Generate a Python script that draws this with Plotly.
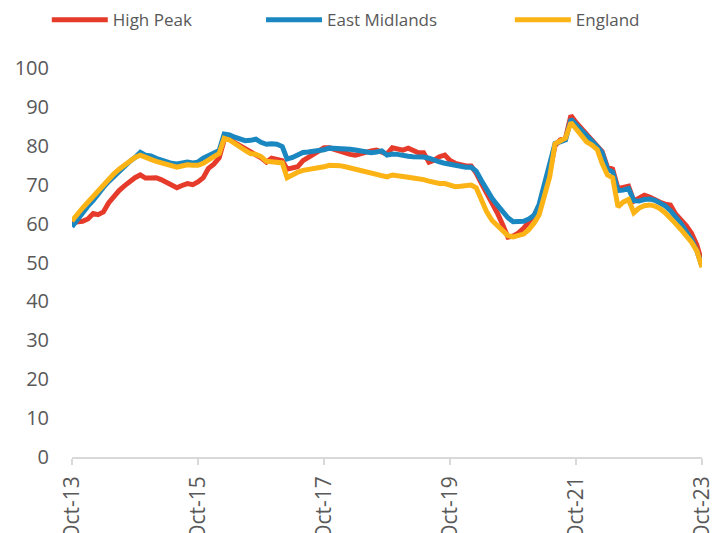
import pandas as pd
import plotly.graph_objects as go

months = pd.date_range("2013-10-01", periods=121, freq="MS")

high_peak = [
    60.3, 60.5, 60.6, 61.2, 62.6, 62.3, 63.0, 65.3, 67.0, 68.5, 69.7, 70.8, 71.8, 72.5, 71.7, 71.7,
    71.8, 71.3, 70.7, 69.9, 69.2, 69.8, 70.3, 70.0, 70.7, 71.8, 74.2, 75.3, 76.9, 81.5, 81.8, 80.8,
    80.0, 79.2, 78.5, 77.8, 76.9, 75.8, 76.8, 76.5, 76.2, 74.0, 74.2, 74.6, 76.2, 77.0, 78.0, 78.6,
    79.5, 79.5, 79.0, 78.5, 78.0, 77.8, 77.6, 78.0, 78.5, 78.7, 78.9, 78.3, 77.9, 79.5, 79.2, 78.9,
    79.4, 78.8, 78.2, 78.2, 75.8, 76.3, 77.2, 77.6, 76.2, 75.5, 75.0, 74.8, 74.8, 73.0, 70.3, 68.0,
    65.6, 62.8, 59.8, 56.5, 56.8, 57.6, 58.8, 60.3, 62.2, 64.5, 69.0, 73.5, 80.0, 81.5, 82.0, 87.8,
    86.0, 84.5, 83.0, 81.5, 80.0, 78.5, 74.5, 74.0, 69.0, 69.2, 69.6, 65.8, 66.5, 67.3, 66.8, 66.3,
    65.5, 65.0, 64.8, 62.5, 61.0, 59.5, 57.5, 54.5, 50.0,
]

east_midlands = [
    59.2, 61.0, 63.0, 64.5, 66.0, 67.8, 69.3, 70.8, 72.2, 73.5, 74.8, 76.0, 77.0, 78.3, 77.6, 77.4,
    76.8, 76.3, 76.0, 75.5, 75.3, 75.6, 75.8, 75.6, 75.8, 76.8, 77.4, 78.0, 78.8, 83.0, 82.8, 82.2,
    81.7, 81.3, 81.4, 81.7, 80.9, 80.4, 80.5, 80.4, 79.8, 76.6, 77.0, 77.8, 78.3, 78.4, 78.5, 78.6,
    79.0, 79.4, 79.4, 79.4, 79.3, 79.1, 78.9, 78.7, 78.4, 78.2, 78.4, 78.7, 77.6, 77.9, 77.8, 77.4,
    77.3, 77.2, 77.2, 77.1, 76.8, 76.2, 75.9, 75.5, 75.2, 74.8, 74.6, 74.5, 74.5, 73.5, 71.0, 68.5,
    66.5, 64.8, 63.0, 61.5, 60.5, 60.4, 60.6, 61.2, 62.2, 65.0, 70.0, 74.5, 80.6, 81.0, 81.5, 86.8,
    85.5, 84.0, 82.8, 81.3, 79.8, 78.2, 74.0, 73.3, 68.5, 68.6, 69.0, 65.9, 65.8, 66.2, 66.3, 66.0,
    65.4, 64.6, 63.3, 61.8, 60.0, 58.0, 56.0, 53.0, 49.0,
]

england = [
    60.7, 62.5, 64.0, 65.5, 67.0, 68.5, 70.2, 71.5, 72.8, 74.0, 75.0, 76.2, 77.0, 77.6, 77.2, 76.5,
    76.0, 75.6, 75.3, 74.9, 74.5, 74.8, 75.1, 75.0, 75.0, 75.5, 76.5, 77.2, 78.0, 81.9, 81.5, 80.5,
    79.6, 78.8, 78.0, 77.8, 77.2, 76.0, 75.9, 75.8, 75.6, 71.8, 72.6, 73.2, 73.7, 73.9, 74.0, 74.2,
    74.6, 75.0, 75.1, 74.9, 74.6, 74.3, 74.0, 73.6, 73.3, 73.1, 72.9, 72.5, 72.0, 72.5, 72.2, 72.0,
    71.9, 71.7, 71.6, 71.3, 70.9, 70.5, 70.3, 70.3, 69.9, 69.5, 69.6, 69.8, 69.9, 69.2, 66.0, 63.0,
    60.8, 59.5, 58.2, 56.9, 56.6, 56.9, 57.3, 58.5, 60.2, 62.3, 67.3, 72.0, 80.5, 81.3, 82.0, 86.0,
    84.3, 82.6, 81.0, 80.2, 79.0, 75.5, 72.5, 71.8, 64.3, 65.5, 66.2, 62.8, 64.0, 64.6, 64.8, 64.5,
    63.8, 62.8, 61.5, 60.0, 58.5, 57.0, 55.2, 53.0, 48.8,
]

tick_dates = ["2013-10-01", "2015-10-01", "2017-10-01", "2019-10-01", "2021-10-01", "2023-10-01"]
tick_labels = ["Oct-13", "Oct-15", "Oct-17", "Oct-19", "Oct-21", "Oct-23"]
y_ticks = [0, 10, 20, 30, 40, 50, 60, 70, 80, 90, 100]

series = [
    ("High Peak", high_peak, "#E63A2B", "legend"),
    ("East Midlands", east_midlands, "#1B87C1", "legend2"),
    ("England", england, "#FBB316", "legend3"),
]

fig = go.Figure()
for name, vals, color, lg in series:
    fig.add_trace(go.Scatter(
        x=months, y=vals, mode="lines", name=name,
        line=dict(color=color, width=5), legend=lg,
    ))

font_family = "Open Sans"
grey = "#595959"
leg_common = dict(orientation="h", yanchor="middle", y=1.123, xanchor="left",
                  font=dict(family=font_family, size=17, color=grey),
                  bgcolor="rgba(0,0,0,0)", itemwidth=56)

fig.update_layout(
    width=724, height=533,
    margin=dict(l=72, r=22, t=68, b=76, autoexpand=False),
    paper_bgcolor="white", plot_bgcolor="white",
    font=dict(family=font_family, color=grey),
    legend=dict(x=-0.040, **leg_common),
    legend2=dict(x=0.300, **leg_common),
    legend3=dict(x=0.695, **leg_common),
    showlegend=True,
)

fig.update_xaxes(
    type="date",
    range=[months[0], months[-1]],
    tickvals=tick_dates, ticktext=tick_labels,
    tickangle=-90,
    tickfont=dict(family=font_family, size=21, color=grey),
    showline=True, linecolor="#D9D9D9", linewidth=1.5,
    ticks="outside", ticklen=6, tickcolor="#D9D9D9", tickwidth=1.5,
    ticklabelstandoff=3,
    showgrid=False, zeroline=False, automargin=False,
)
fig.update_yaxes(
    range=[0, 100],
    tickvals=y_ticks,
    tickfont=dict(family=font_family, size=20, color=grey),
    showline=False, showgrid=False, zeroline=False,
    ticks="", ticklabelstandoff=22, automargin=False,
)

fig.write_html(
    "out.html",
    config={"displayModeBar": False},
    post_script="document.body.style.margin='0';document.body.style.overflow='hidden';",
)
